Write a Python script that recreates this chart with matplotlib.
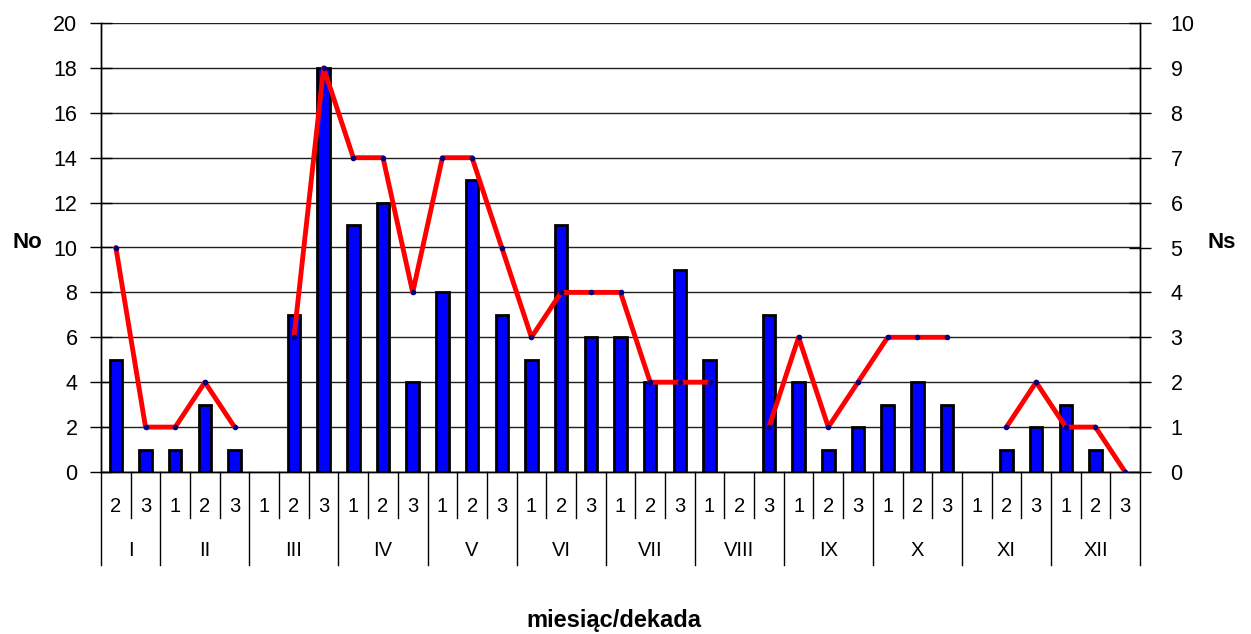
import matplotlib
matplotlib.use("Agg")
import matplotlib.pyplot as plt
import numpy as np
import matplotlib.transforms as mtransforms

months = ["I", "II", "III", "IV", "V", "VI", "VII", "VIII", "IX", "X", "XI", "XII"]
decades = ["2", "3",
           "1", "2", "3", "1", "2", "3", "1", "2", "3", "1", "2", "3",
           "1", "2", "3", "1", "2", "3", "1", "2", "3", "1", "2", "3",
           "1", "2", "3", "1", "2", "3", "1", "2", "3"]
month_sizes = [2, 3, 3, 3, 3, 3, 3, 3, 3, 3, 3, 3]

no_values = [5, 1,
             1, 3, 1,
             0, 7, 18,
             11, 12, 4,
             8, 13, 7,
             5, 11, 6,
             6, 4, 9,
             5, 0, 7,
             4, 1, 2,
             3, 4, 3,
             0, 1, 2,
             3, 1, 0]
ns_values = [5, 1,
             1, 2, 1,
             np.nan, 3, 9,
             7, 7, 4,
             7, 7, 5,
             3, 4, 4,
             4, 2, 2,
             2, np.nan, 1,
             3, 1, 2,
             3, 3, 3,
             np.nan, 1, 2,
             1, 1, 0]

plt.rcParams['font.family'] = ['Liberation Sans', 'DejaVu Sans']

W, H = 1251, 634
fig = plt.figure(figsize=(W / 100, H / 100), dpi=100)
left, right, top, bottom = 101, 1140, 23, 472
ax = fig.add_axes([left / W, 1 - bottom / H, (right - left) / W, (bottom - top) / H])
ax2 = ax.twinx()

n = len(decades)
x = np.arange(n)
no_arr = np.array(no_values, dtype=float)
heights = np.where(no_arr > 0, no_arr, np.nan)
ax.bar(x, heights, width=0.42, color="#0000FF", edgecolor="black", linewidth=2.0, zorder=3)
ax.set_xlim(-0.5, n - 0.5)
ax.set_ylim(0, 20)
ax.set_yticks(np.arange(0, 21, 2))
ax.set_axisbelow(True)
ax.yaxis.grid(True, color="#202020", linewidth=1.0)
ax.tick_params(axis="y", labelsize=15.5, length=16, width=1, direction="inout", pad=9)
ax.set_xticks([])

ax2.plot(x, ns_values, color="#FF0000", linewidth=3.5, solid_joinstyle="round",
         solid_capstyle="round",
         marker="o", markersize=3, markerfacecolor="#000080", markeredgecolor="#000080", zorder=4)
ax2.set_ylim(0, 10)
ax2.set_yticks(np.arange(0, 11, 1))
ax2.tick_params(axis="y", labelsize=15.5, length=16, width=1, direction="inout", pad=14)

for a in (ax, ax2):
    a.spines["top"].set_visible(False)
    for s in ("left", "right", "bottom"):
        a.spines[s].set_linewidth(1.0)

trans = mtransforms.blended_transform_factory(ax.transData, ax.transAxes)
ph = bottom - top
dec_bottom = -(518 - bottom) / ph
mon_bottom = -(565 - bottom) / ph
dec_label_y = -(507 - bottom) / ph
mon_label_y = -(551 - bottom) / ph

month_edges = np.concatenate([[0], np.cumsum(month_sizes)]) - 0.5
for b in np.arange(n + 1) - 0.5:
    yb = mon_bottom if np.any(np.isclose(month_edges, b)) else dec_bottom
    ax.plot([b, b], [0, yb], color="black", linewidth=1.0, transform=trans, clip_on=False)

for i, d in enumerate(decades):
    ax.text(i, dec_label_y, d, transform=trans, ha="center", va="center", fontsize=14.5)
for m, (a0, a1) in zip(months, zip(month_edges[:-1], month_edges[1:])):
    ax.text((a0 + a1) / 2, mon_label_y, m, transform=trans, ha="center", va="center", fontsize=14.5)

fig.text(27 / W, 1 - 242 / H, "No", ha="center", va="center", fontsize=16, fontweight="bold")
fig.text(1222 / W, 1 - 242 / H, "Ns", ha="center", va="center", fontsize=16, fontweight="bold")
fig.text(614 / W, 1 - 620 / H, "miesiąc/dekada", ha="center", va="center", fontsize=17, fontweight="bold")

fig.savefig("out.png", dpi=100, facecolor="white")
